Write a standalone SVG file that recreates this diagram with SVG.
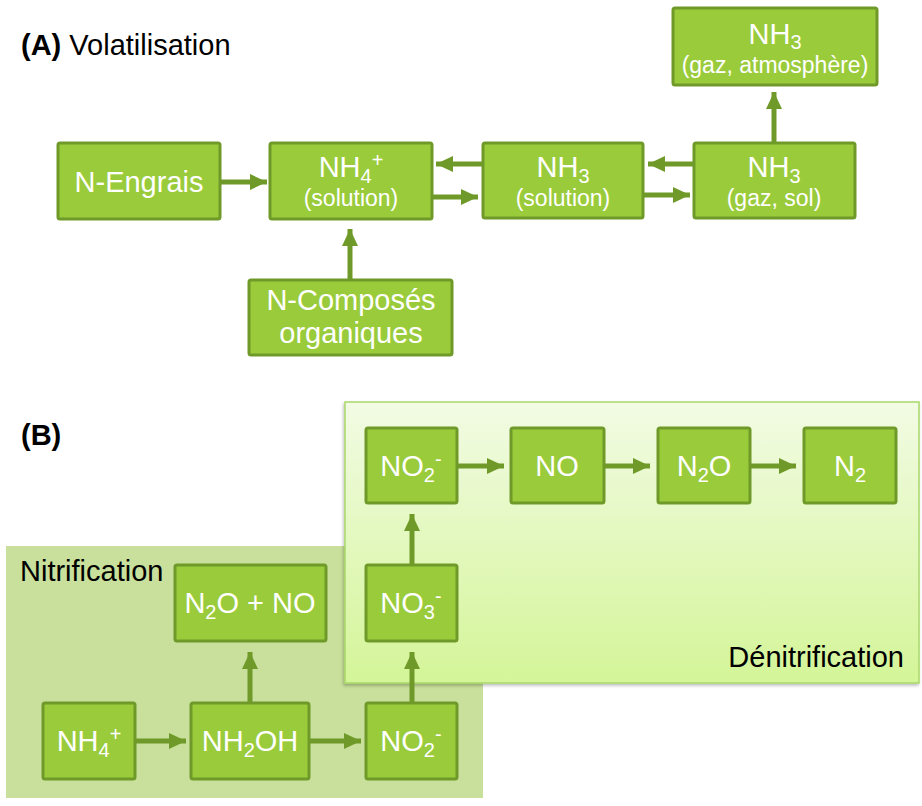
<svg xmlns="http://www.w3.org/2000/svg" width="922" height="806" viewBox="0 0 922 806">
<defs>
<style>
.box{fill:#9acb3b;stroke:#6f9a29;stroke-width:3}
.t{font-family:"Liberation Sans",Arial,sans-serif;fill:#ffffff;text-anchor:middle;font-size:29px}
.s{font-size:23px}
.lab{font-family:"Liberation Sans",Arial,sans-serif;fill:#000000;font-size:29px}
.arr{stroke:#6f9a29;stroke-width:5;fill:none;marker-end:url(#ah)}
</style>
<marker id="ah" markerUnits="userSpaceOnUse" viewBox="0 0 17 16" refX="17" refY="8" markerWidth="17" markerHeight="16" orient="auto">
<path d="M0,0 L17,8 L0,16 z" fill="#6f9a29"/>
</marker>
<linearGradient id="dg" x1="0" y1="0" x2="0" y2="1">
<stop offset="0" stop-color="#f2fbe4"/>
<stop offset="1" stop-color="#d4f598"/>
</linearGradient>
<filter id="sh" x="-5%" y="-5%" width="110%" height="115%">
<feDropShadow dx="-1" dy="2" stdDeviation="1.5" flood-color="#000" flood-opacity="0.25"/>
</filter>
</defs>

<g id="titles">
<text class="lab" x="21" y="55"><tspan font-weight="bold">(A)</tspan> Volatilisation</text>
<text class="lab" x="21" y="445" font-weight="bold">(B)</text>
</g>

<g id="nitrification-zone">
<rect x="6" y="546" width="477" height="252" fill="#c8e09b"/>
<text class="lab" x="20" y="581">Nitrification</text>
</g>

<g id="denitrification-zone">
<rect x="345" y="402" width="574" height="281" fill="url(#dg)" stroke="#a9d86a" stroke-width="1.5" filter="url(#sh)"/>
<text class="lab" x="904" y="667" text-anchor="end">Dénitrification</text>
</g>

<g id="connectors">
<path class="arr" d="M220,182 H267"/>
<path class="arr" d="M350,280 V229"/>
<path class="arr" d="M483,164 H436"/>
<path class="arr" d="M432,197 H478"/>
<path class="arr" d="M694,164 H648"/>
<path class="arr" d="M643,195 H690"/>
<path class="arr" d="M774,143 V92"/>
<path class="arr" d="M135,741 H186"/>
<path class="arr" d="M309,741 H361"/>
<path class="arr" d="M250,703 V652"/>
<path class="arr" d="M412,703 V652"/>
<path class="arr" d="M412,565 V514"/>
<path class="arr" d="M458,466 H504"/>
<path class="arr" d="M604,466 H650"/>
<path class="arr" d="M750,466 H796"/>
</g>

<g id="n-engrais">
<rect class="box" x="58" y="143" width="162" height="76" rx="2"/>
<text class="t" x="139" y="192">N-Engrais</text>
</g>
<g id="nh4-solution">
<rect class="box" x="270" y="143" width="162" height="76" rx="2"/>
<text class="t" x="351" y="177">NH<tspan font-size="20" dy="6">4</tspan><tspan font-size="20" dy="-16">+</tspan></text>
<text class="t s" x="351" y="206">(solution)</text>
</g>
<g id="n-composes">
<rect class="box" x="249" y="280" width="203" height="75" rx="2"/>
<text class="t" x="351" y="310">N-Composés</text>
<text class="t" x="351" y="343">organiques</text>
</g>
<g id="nh3-solution">
<rect class="box" x="483" y="143" width="160" height="75" rx="2"/>
<text class="t" x="563" y="177">NH<tspan font-size="20" dy="6">3</tspan></text>
<text class="t s" x="563" y="206">(solution)</text>
</g>
<g id="nh3-gaz-sol">
<rect class="box" x="694" y="143" width="161" height="75" rx="2"/>
<text class="t" x="774" y="177">NH<tspan font-size="20" dy="6">3</tspan></text>
<text class="t s" x="774" y="206">(gaz, sol)</text>
</g>
<g id="nh3-atmosphere">
<rect class="box" x="673" y="8" width="204" height="77" rx="2"/>
<text class="t" x="775" y="44">NH<tspan font-size="20" dy="5">3</tspan></text>
<text class="t s" x="775" y="73">(gaz, atmosphère)</text>
</g>

<g id="b-nh4">
<rect class="box" x="43" y="703" width="92" height="76" rx="2"/>
<text class="t" x="89" y="751">NH<tspan font-size="20" dy="6">4</tspan><tspan font-size="20" dy="-16">+</tspan></text>
</g>
<g id="b-nh2oh">
<rect class="box" x="191" y="703" width="118" height="76" rx="2"/>
<text class="t" x="250" y="751">NH<tspan font-size="20" dy="6">2</tspan><tspan dy="-6">OH</tspan></text>
</g>
<g id="b-no2-bottom">
<rect class="box" x="366" y="703" width="91" height="76" rx="2"/>
<text class="t" x="411" y="751">NO<tspan font-size="20" dy="6">2</tspan><tspan font-size="20" dy="-16">-</tspan></text>
</g>
<g id="b-n2o-no">
<rect class="box" x="175" y="565" width="151" height="76" rx="2"/>
<text class="t" x="250" y="613">N<tspan font-size="20" dy="6">2</tspan><tspan dy="-6">O + NO</tspan></text>
</g>
<g id="b-no3">
<rect class="box" x="366" y="565" width="91" height="76" rx="2"/>
<text class="t" x="411" y="613">NO<tspan font-size="20" dy="6">3</tspan><tspan font-size="20" dy="-16">-</tspan></text>
</g>
<g id="b-no2-top">
<rect class="box" x="366" y="428" width="91" height="75" rx="2"/>
<text class="t" x="411" y="476">NO<tspan font-size="20" dy="6">2</tspan><tspan font-size="20" dy="-16">-</tspan></text>
</g>
<g id="b-no">
<rect class="box" x="511" y="428" width="93" height="75" rx="2"/>
<text class="t" x="557" y="476">NO</text>
</g>
<g id="b-n2o">
<rect class="box" x="658" y="428" width="92" height="75" rx="2"/>
<text class="t" x="704" y="476">N<tspan font-size="20" dy="6">2</tspan><tspan dy="-6">O</tspan></text>
</g>
<g id="b-n2">
<rect class="box" x="804" y="428" width="92" height="75" rx="2"/>
<text class="t" x="850" y="476">N<tspan font-size="20" dy="6">2</tspan></text>
</g>
</svg>
